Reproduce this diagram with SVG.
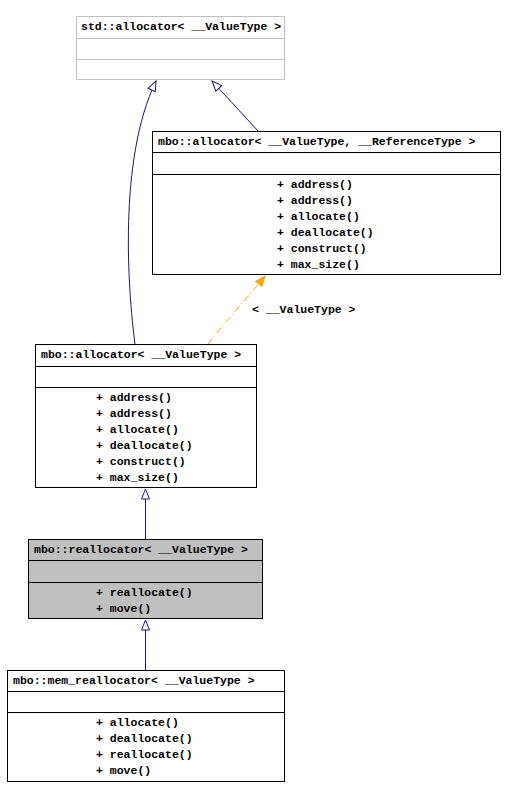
<svg xmlns="http://www.w3.org/2000/svg" width="507" height="799" viewBox="0 0 507 799">
<style>
.box{fill:#fff;stroke:#000;stroke-width:1}
.gray{fill:#bfbfbf;stroke:#000;stroke-width:1}
.lt{fill:#fff;stroke:#bfbfbf;stroke-width:1}
.div{stroke:#000;stroke-width:1}
.divl{stroke:#bfbfbf;stroke-width:1}
text{font-family:"Liberation Mono","DejaVu Sans Mono",monospace;font-size:11.5px;font-weight:bold;fill:#000}
.inh{fill:none;stroke:#191970;stroke-width:1}
.tpl{fill:none;stroke:#ffa500;stroke-width:1;stroke-dasharray:7,3,1,3}
</style>
<defs>
<marker id="hollow" markerWidth="12" markerHeight="10" refX="11" refY="5" orient="auto" markerUnits="userSpaceOnUse">
<path d="M1,1 L11,5 L1,9 Z" fill="#fff" stroke="#191970" stroke-width="1"/>
</marker>
<marker id="orange" markerWidth="12" markerHeight="10" refX="11" refY="5" orient="auto" markerUnits="userSpaceOnUse">
<path d="M1,1 L11,5 L1,9 Z" fill="#ffa500" stroke="#ffa500" stroke-width="1"/>
</marker>
</defs>
<g id="connectors">
<path class="inh" d="M135,344 C128,290 118,160 156,81" marker-end="url(#hollow)"/>
<path class="inh" d="M258,131 L212,81" marker-end="url(#hollow)"/>
<path class="tpl" d="M208,344 C225,322 250,295 265,276" marker-end="url(#orange)"/>
<text x="252" y="313">&lt; __ValueType &gt;</text>
<path class="inh" d="M145.5,539 L145.5,489" marker-end="url(#hollow)"/>
<path class="inh" d="M145.5,670 L145.5,620" marker-end="url(#hollow)"/>
</g>
<g id="std_allocator">
<rect class="lt" x="76.5" y="16.5" width="208" height="63"/>
<line class="divl" x1="76.5" y1="38.5" x2="284.5" y2="38.5"/>
<line class="divl" x1="76.5" y1="59.5" x2="284.5" y2="59.5"/>
<text x="81" y="30">std::allocator&lt; __ValueType &gt;</text>
</g>
<g id="mbo_allocator_ref">
<rect class="box" x="152.5" y="131.5" width="348" height="143"/>
<line class="div" x1="152.5" y1="152.5" x2="500.5" y2="152.5"/>
<line class="div" x1="152.5" y1="174.5" x2="500.5" y2="174.5"/>
<text x="158" y="145">mbo::allocator&lt; __ValueType, __ReferenceType &gt;</text>
<text x="277" y="188">+ address()</text>
<text x="277" y="204">+ address()</text>
<text x="277" y="220">+ allocate()</text>
<text x="277" y="236">+ deallocate()</text>
<text x="277" y="252">+ construct()</text>
<text x="277" y="268">+ max_size()</text>
</g>
<g id="mbo_allocator">
<rect class="box" x="35.5" y="344.5" width="221" height="143"/>
<line class="div" x1="35.5" y1="366.5" x2="256.5" y2="366.5"/>
<line class="div" x1="35.5" y1="387.5" x2="256.5" y2="387.5"/>
<text x="41" y="358">mbo::allocator&lt; __ValueType &gt;</text>
<text x="96" y="401">+ address()</text>
<text x="96" y="417">+ address()</text>
<text x="96" y="433">+ allocate()</text>
<text x="96" y="449">+ deallocate()</text>
<text x="96" y="465">+ construct()</text>
<text x="96" y="481">+ max_size()</text>
</g>
<g id="mbo_reallocator">
<rect class="gray" x="28.5" y="539.5" width="234" height="79"/>
<line class="div" x1="28.5" y1="560.5" x2="262.5" y2="560.5"/>
<line class="div" x1="28.5" y1="582.5" x2="262.5" y2="582.5"/>
<text x="34" y="553">mbo::reallocator&lt; __ValueType &gt;</text>
<text x="96" y="596">+ reallocate()</text>
<text x="96" y="612">+ move()</text>
</g>
<g id="mbo_mem_reallocator">
<rect class="box" x="7.5" y="670.5" width="277" height="111"/>
<line class="div" x1="7.5" y1="691.5" x2="284.5" y2="691.5"/>
<line class="div" x1="7.5" y1="712.5" x2="284.5" y2="712.5"/>
<text x="13" y="684">mbo::mem_reallocator&lt; __ValueType &gt;</text>
<text x="96" y="726">+ allocate()</text>
<text x="96" y="742">+ deallocate()</text>
<text x="96" y="758">+ reallocate()</text>
<text x="96" y="774">+ move()</text>
</g>
</svg>
